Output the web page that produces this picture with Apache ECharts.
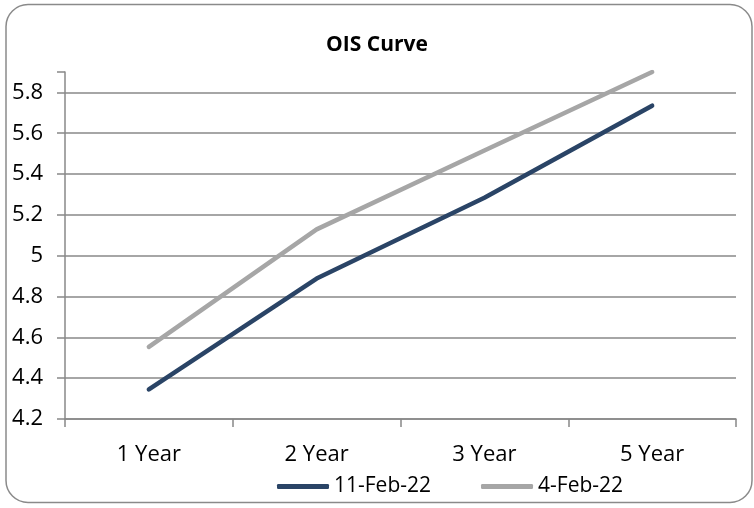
<!DOCTYPE html>
<html>
<head>
<meta charset="utf-8">
<script src="https://cdn.jsdelivr.net/npm/echarts@6.0.0/dist/echarts.min.js"></script>
<style>
html,body{margin:0;padding:0;background:#fff;}
#c{width:754px;height:508px;}
</style>
</head>
<body>
<div id="c"></div>
<script>
const categories = ['1 Year', '2 Year', '3 Year', '5 Year'];
const feb11 = [4.345, 4.888, 5.284, 5.735];
const feb4 = [4.553, 5.129, 5.515, 5.9];
const seriesNames = ['11-Feb-22', '4-Feb-22'];
const yMin = 4.2, yMax = 5.9, yStep = 0.2;

const FONT = '"Open Sans", "Noto Sans", sans-serif';
const axisGray = '#888888';
const darkColor = '#2a4466';
const lightColor = '#a6a6a6';

const chart = echarts.init(document.getElementById('c'), null, {renderer: 'canvas'});
chart.setOption({
  backgroundColor: '#ffffff',
  animation: false,
  graphic: [{
    type: 'rect',
    shape: {x: 6, y: 4.5, width: 746, height: 498, r: 22},
    style: {fill: 'none', stroke: '#8a8a8a', lineWidth: 1.5},
    silent: true, z: -1
  }],
  title: {
    text: 'OIS Curve',
    left: 'center',
    top: 30,
    textStyle: {fontFamily: FONT, fontWeight: 'bold', fontSize: 21, color: '#000'}
  },
  legend: {
    left: 272,
    top: 471,
    icon: 'roundRect',
    itemWidth: 52,
    itemHeight: 5,
    itemGap: 50,
    itemTextGap: 5,
    data: seriesNames,
    textStyle: {fontFamily: FONT, fontSize: 21, color: '#000'}
  },
  grid: {left: 65, right: 18, top: 72, bottom: 89, containLabel: false, outerBoundsMode: 'none'},
  xAxis: {
    type: 'category',
    data: categories,
    boundaryGap: true,
    axisLine: {show: true, lineStyle: {color: axisGray, width: 1.5}},
    axisTick: {show: true, length: 8, alignWithLabel: false, lineStyle: {color: axisGray, width: 1.5}},
    axisLabel: {fontFamily: FONT, fontSize: 22, color: '#000', margin: 25},
    splitLine: {show: false}
  },
  yAxis: {
    type: 'value',
    min: yMin,
    max: yMax,
    interval: yStep,
    axisLine: {show: true, lineStyle: {color: axisGray, width: 1.5}},
    axisTick: {show: true, length: 8, inside: false, lineStyle: {color: axisGray, width: 1.5}},
    axisLabel: {
      fontFamily: FONT, fontSize: 22, color: '#000', margin: 22,
      formatter: function (v) { return Math.abs(v - yMax) < 1e-6 ? '' : String(+v.toFixed(1)); }
    },
    splitLine: {show: true, lineStyle: {
      color: [axisGray, axisGray, axisGray, axisGray, axisGray, axisGray, axisGray, axisGray, axisGray, 'rgba(0,0,0,0)'],
      width: 1.5}}
  },
  series: [
    {
      name: seriesNames[0], type: 'line', data: feb11, symbol: 'none',
      lineStyle: {color: darkColor, width: 4.5, cap: 'round', join: 'round'},
      itemStyle: {color: darkColor}, z: 3
    },
    {
      name: seriesNames[1], type: 'line', data: feb4, symbol: 'none',
      lineStyle: {color: lightColor, width: 4.5, cap: 'round', join: 'round'},
      itemStyle: {color: lightColor}, z: 2
    }
  ]
});
</script>
</body>
</html>
